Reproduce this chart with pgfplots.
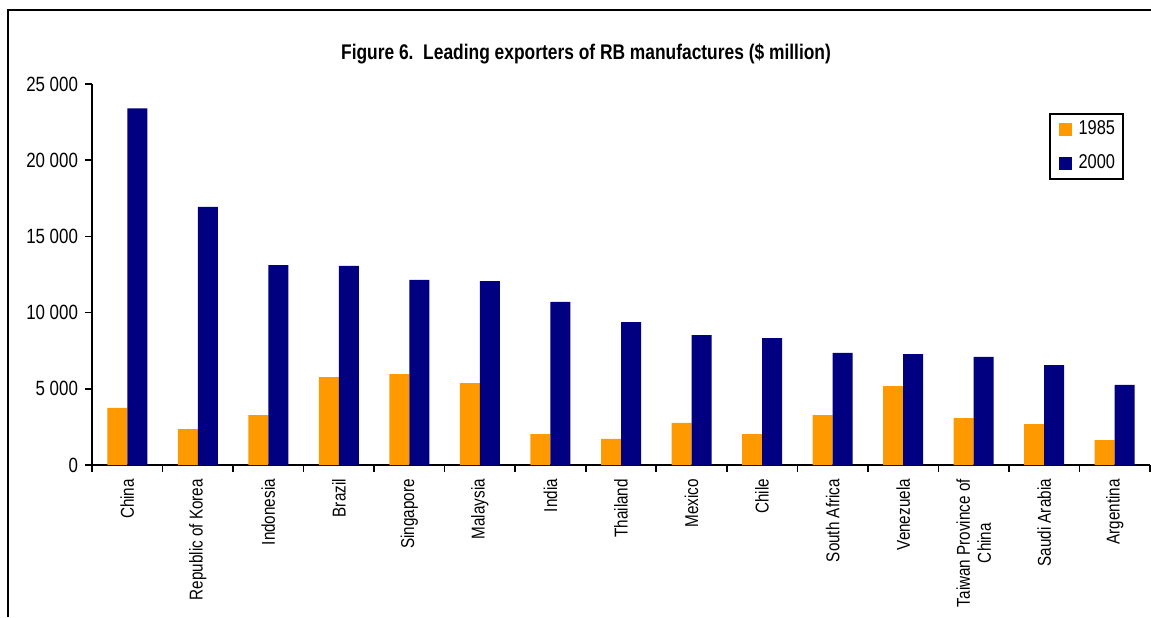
\documentclass[border=0pt]{standalone}
\usepackage{fontspec}
\setmainfont{Liberation Sans}[FakeStretch=0.82]
\usepackage{pgfplots}
\pgfplotsset{compat=1.18}
\definecolor{orng}{HTML}{FF9900}
\definecolor{nvy}{HTML}{000080}
\begin{document}
\begin{tikzpicture}
\useasboundingbox (0,0) rectangle (575.5pt,308.5pt);
\draw[line width=0.8pt] (4pt,0) -- (4pt,303.5pt) -- (575.5pt,303.5pt);
\node[font=\bfseries\fontsize{10.6}{12}\selectfont] at (293pt,281.5pt) {Figure 6.\ \ Leading exporters of RB manufactures (\$ million)};
\begin{axis}[
  at={(46pt,76pt)}, anchor=south west,
  scale only axis, width=529pt, height=190.5pt,
  ymin=0, ymax=25000, xmin=-0.5, xmax=14.5,
  scaled y ticks=false,
  axis x line*=bottom, axis y line*=left,
  axis line style={line width=0.8pt},
  ybar=0pt, bar width=10pt,
  ytick={0,5000,10000,15000,20000,25000},
  yticklabels={0,5 000,10 000,15 000,20 000,25 000},
  xtick={0,...,14},
  xticklabels={China,Republic of Korea,Indonesia,Brazil,Singapore,Malaysia,India,Thailand,Mexico,Chile,South Africa,Venezuela,{Taiwan Province of\\China},Saudi Arabia,Argentina},
  minor xtick={-0.5,0.5,...,14.5},
  tick align=outside,
  major tick length=3.5pt, minor tick length=3.5pt,
  major x tick style={draw=none},
  tick style={black, line width=0.8pt},
  minor tick style={black, line width=0.8pt},
  y tick label style={font=\fontsize{10.3}{12}\selectfont},
  x tick label style={font=\fontsize{9.3}{10.5}\selectfont, rotate=90, anchor=east, align=center},
  legend style={at={(0.9754,0.9239)}, anchor=north east, draw=black, line width=0.9pt,
    font=\fontsize{10}{12}\selectfont, inner xsep=2pt, inner ysep=1.5pt, row sep=4.5pt},
  legend image code/.code={\path (-2.5pt,0) (8pt,0); \fill[#1] (0pt,-3.25pt) rectangle (6.5pt,3.25pt);},
]
\addplot[fill=orng, draw=none] coordinates {(0,3750) (1,2360) (2,3280) (3,5770) (4,5970) (5,5380) (6,2030) (7,1710) (8,2760) (9,2030) (10,3280) (11,5180) (12,3080) (13,2690) (14,1640)};
\addplot[fill=nvy, draw=none] coordinates {(0,23400) (1,16930) (2,13120) (3,13060) (4,12140) (5,12070) (6,10700) (7,9380) (8,8530) (9,8330) (10,7350) (11,7280) (12,7090) (13,6560) (14,5250)};
\legend{1985,2000}
\end{axis}
\end{tikzpicture}
\end{document}
